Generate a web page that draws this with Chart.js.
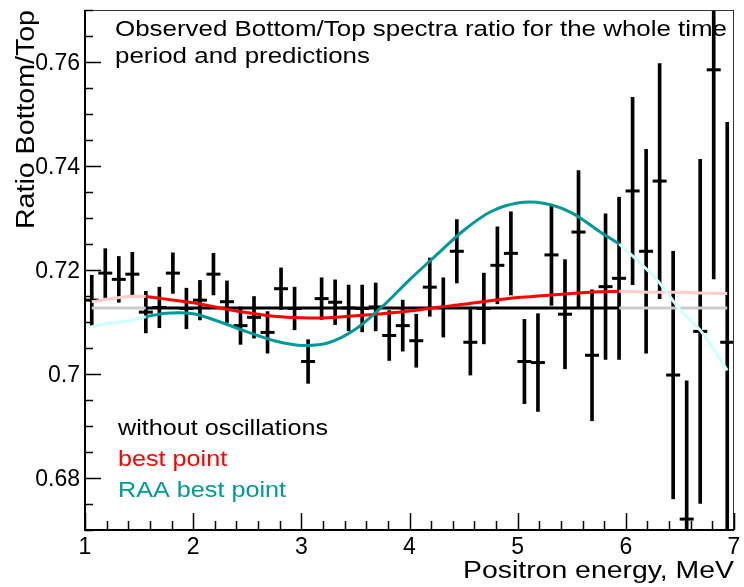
<!DOCTYPE html>
<html>
<head>
<meta charset="utf-8">
<script src="https://cdn.jsdelivr.net/npm/chart.js@4.4.1/dist/chart.umd.min.js"></script>
<style>
html, body { margin: 0; padding: 0; background: #fff; }
</style>
</head>
<body>
<canvas id="chart" width="744" height="587"></canvas>
<script>
// bin centres, MeV
var energy = [1.0625, 1.1875, 1.3125, 1.4375, 1.5625, 1.6875, 1.8125, 1.9375,
	2.0625, 2.1875, 2.3125, 2.4375, 2.5625, 2.6875, 2.8125, 2.9375,
	3.0625, 3.1875, 3.3125, 3.4375, 3.5625, 3.6875, 3.8125, 3.9375,
	4.0625, 4.1875, 4.3125, 4.4375, 4.5625, 4.6875, 4.8125, 4.9375,
	5.0625, 5.1875, 5.3125, 5.4375, 5.5625, 5.6875, 5.8125, 5.9375,
	6.0625, 6.1875, 6.3125, 6.4375, 6.5625, 6.6875, 6.8125, 6.9375]
// observed bottom/top ratio
var ratio = [0.7142, 0.7194, 0.7182, 0.7192, 0.7119, 0.7128, 0.7194, 0.7126,
	0.7142, 0.7192, 0.7139, 0.7093, 0.7109, 0.7080, 0.7164, 0.7126,
	0.7024, 0.7145, 0.7138, 0.7127, 0.7126, 0.7129, 0.7074, 0.7093,
	0.7064, 0.7167, 0.7128, 0.7236, 0.7061, 0.7126, 0.7209, 0.7232,
	0.7024, 0.7022, 0.7229, 0.7115, 0.7273, 0.7036, 0.7168, 0.7184,
	0.7352, 0.7236, 0.7371, 0.6998, 0.6721, 0.7082, 0.7585, 0.7061]
var errHigh = [0.0048, 0.0047, 0.0044, 0.0042, 0.0040, 0.0039, 0.0039, 0.0039,
	0.0038, 0.0040, 0.0040, 0.0036, 0.0040, 0.0040, 0.0040, 0.0041,
	0.0042, 0.0040, 0.0043, 0.0044, 0.0045, 0.0046, 0.0048, 0.0049,
	0.0051, 0.0056, 0.0057, 0.0061, 0.0063, 0.0068, 0.0074, 0.0080,
	0.0081, 0.0094, 0.0097, 0.0105, 0.0118, 0.0126, 0.0140, 0.0156,
	0.0180, 0.0196, 0.0226, 0.0238, 0.0266, 0.0331, 0.0402, 0.0423]
var errLow = [0.0048, 0.0047, 0.0044, 0.0042, 0.0040, 0.0039, 0.0039, 0.0039,
	0.0038, 0.0040, 0.0040, 0.0036, 0.0040, 0.0040, 0.0040, 0.0041,
	0.0042, 0.0040, 0.0043, 0.0044, 0.0045, 0.0046, 0.0048, 0.0049,
	0.0051, 0.0056, 0.0057, 0.0061, 0.0063, 0.0068, 0.0074, 0.0080,
	0.0081, 0.0094, 0.0097, 0.0105, 0.0145, 0.0126, 0.0140, 0.0156,
	0.0180, 0.0196, 0.0226, 0.0238, 0.0266, 0.0331, 0.0402, 0.0423]

// predictions, sampled along curveE
var curveE = [1.0625, 1.25, 1.4, 1.5625, 1.75, 2.0, 2.25, 2.5, 2.75, 3.0, 3.25, 3.5,
	3.75, 4.0, 4.25, 4.5, 4.75, 5.0, 5.25, 5.5, 5.75, 5.9375, 6.1, 6.3, 6.5, 6.7, 6.9375]
var noOsc = [0.7127, 0.7127, 0.7127, 0.7127, 0.7127, 0.7127, 0.7127, 0.7127, 0.7127,
	0.7127, 0.7127, 0.7127, 0.7127, 0.7127, 0.7127, 0.7127, 0.7127, 0.7127, 0.7127,
	0.7127, 0.7127, 0.7127, 0.7127, 0.7127, 0.7127, 0.7127, 0.7127]
var bestPoint = [0.7139, 0.7145, 0.7149, 0.7149, 0.7144, 0.7137, 0.7127, 0.7118, 0.7111,
	0.7108, 0.7108, 0.7112, 0.7116, 0.7121, 0.7128, 0.7134, 0.7141, 0.7147, 0.7151,
	0.7155, 0.7158, 0.7159, 0.7158, 0.7157, 0.7157, 0.7156, 0.7155]
var raaBest = [0.7091, 0.7098, 0.7102, 0.7110, 0.7117, 0.7116, 0.7100, 0.7081, 0.7064,
	0.7055, 0.7060, 0.7086, 0.7130, 0.7181, 0.7229, 0.7276, 0.7312, 0.7329, 0.7328,
	0.7310, 0.7275, 0.7250, 0.7220, 0.7178, 0.7124, 0.7081, 0.7007]
var fitMin = 1.5625, fitMax = 5.9375

var xTicks = [1, 2, 3, 4, 5, 6, 7]
var yTicks = [0.68, 0.70, 0.72, 0.74, 0.76]
var noteLines = ['Observed Bottom/Top spectra ratio for the whole time', 'period and predictions']
var legendLabels = ['without oscillations', 'best point', 'RAA best point']
var xTitle = 'Positron energy, MeV'
var yTitle = 'Ratio Bottom/Top'

var FONT = "'Liberation Sans', Arial, sans-serif"
var TEAL = '#009999'

function pts(vals, keep) {
	return curveE.map(function (e, i) {
		return { x: e, y: keep(e) ? vals[i] : null }
	})
}
var inFit = function (e) { return e >= fitMin && e <= fitMax }
var outFit = function (e) { return e <= fitMin || e >= fitMax }

function curve(vals, color, keep, order) {
	return {
		type: 'line', data: pts(vals, keep), borderColor: color, borderWidth: 3,
		pointRadius: 0, tension: 0.35, spanGaps: false,
		clip: 0, order: order,
	}
}

// text drawn a bit wider than the font, like the ROOT output
function wideText(ctx, s, x, y, sx) {
	ctx.save()
	ctx.translate(x, y)
	ctx.scale(sx, 1)
	ctx.fillText(s, 0, 0)
	ctx.restore()
}

// ROOT-like frame, ticks, labels and texts
var rootStyle = {
	id: 'rootStyle',
	afterDatasetsDraw: function (chart) {
		var ctx = chart.ctx, a = chart.chartArea
		var xs = chart.scales.x, ys = chart.scales.y
		ctx.save()
		ctx.strokeStyle = '#333'
		ctx.lineWidth = 1
		ctx.strokeRect(a.left + 0.5, a.top + 0.5, a.right - a.left - 1, a.bottom - a.top - 1)
		ctx.strokeStyle = '#000'
		ctx.lineWidth = 2
		ctx.beginPath()
		ctx.moveTo(a.left, a.top); ctx.lineTo(a.left, a.bottom); ctx.lineTo(a.right, a.bottom)
		ctx.stroke()
		ctx.lineWidth = 1.5
		ctx.beginPath()
		for (var v = 1; v <= 7.0001; v += 0.2) {
			var px = Math.round(xs.getPixelForValue(v)) + 0.5
			var major = Math.abs(v - Math.round(v)) < 1e-6
			ctx.moveTo(px, a.bottom); ctx.lineTo(px, a.bottom - (major ? 17 : 9))
		}
		for (var w = 0.67; w <= 0.7701; w += 0.005) {
			var py = Math.round(ys.getPixelForValue(w)) + 0.5
			var maj = Math.abs(w * 50 - Math.round(w * 50)) < 1e-6
			ctx.moveTo(a.left, py); ctx.lineTo(a.left + (maj ? 16 : 8), py)
		}
		ctx.stroke()

		ctx.fillStyle = '#000'
		ctx.font = '23px ' + FONT
		ctx.textBaseline = 'alphabetic'
		ctx.textAlign = 'center'
		xs.ticks.forEach(function (t) {
			ctx.fillText(String(t.value), xs.getPixelForValue(t.value), 554)
		})
		ctx.textAlign = 'right'
		ys.ticks.forEach(function (t) {
			ctx.fillText(String(+t.value.toFixed(2)), 80, ys.getPixelForValue(t.value) + 8)
		})

		ctx.textAlign = 'left'
		ctx.font = '23px ' + FONT
		var wx = ctx.measureText(xTitle).width
		wideText(ctx, xTitle, a.right - 271, 578, 271 / wx)
		ctx.font = '25px ' + FONT
		var wy = ctx.measureText(yTitle).width
		ctx.save()
		ctx.translate(34, a.top + 219)
		ctx.rotate(-Math.PI / 2)
		wideText(ctx, yTitle, 0, 0, 219 / wy)
		ctx.restore()
		ctx.restore()

		ctx.save()
		ctx.font = '22px ' + FONT
		ctx.textAlign = 'left'; ctx.textBaseline = 'alphabetic'
		ctx.fillStyle = '#000'
		var w0 = ctx.measureText(noteLines[0]).width
		noteLines.forEach(function (s, i) { wideText(ctx, s, 115, 36 + i * 27, 612 / w0) })
		var cols = ['#000', '#ff0000', TEAL]
		var w1 = ctx.measureText(legendLabels[0]).width
		legendLabels.forEach(function (s, i) {
			ctx.fillStyle = cols[i]
			wideText(ctx, s, 118, 435 + i * 31, 210 / w1)
		})
		ctx.restore()
	},
}

new Chart(document.getElementById('chart'), {
	type: 'bar',
	data: {
		datasets: [
			// vertical error bars
			{
				type: 'bar', grouped: false, barThickness: 3, backgroundColor: '#000', borderWidth: 0,
				data: energy.map(function (e, i) { return { x: e, y: [ratio[i] - errLow[i], ratio[i] + errHigh[i]] } }),
				clip: 0, order: 10,
			},
			// bin markers
			{
				type: 'line', showLine: false, pointStyle: 'line', pointRadius: 7, pointBorderWidth: 3,
				pointBorderColor: '#000', borderColor: '#000',
				data: energy.map(function (e, i) { return { x: e, y: ratio[i] } }),
				clip: 0, order: 9,
			},
			curve(noOsc, '#cccccc', outFit, 6),
			curve(bestPoint, '#ffcccc', outFit, 5),
			curve(raaBest, '#ccffff', outFit, 4),
			curve(noOsc, '#000000', inFit, 3),
			curve(bestPoint, '#ff0000', inFit, 2),
			curve(raaBest, TEAL, inFit, 1),
		],
	},
	options: {
		responsive: false,
		animation: false,
		layout: { padding: { left: 0, right: 3, top: 5, bottom: 0 } },
		plugins: { legend: { display: false }, tooltip: { enabled: false } },
		scales: {
			x: {
				type: 'linear', min: 1, max: 7, offset: false,
				grid: { display: false }, border: { display: false }, ticks: { display: false },
				afterBuildTicks: function (s) { s.ticks = xTicks.map(function (v) { return { value: v } }) },
				afterFit: function (s) { s.height = 57 },
			},
			y: {
				type: 'linear', min: 0.67, max: 0.77,
				grid: { display: false }, border: { display: false }, ticks: { display: false },
				afterBuildTicks: function (s) { s.ticks = yTicks.map(function (v) { return { value: v } }) },
				afterFit: function (s) { s.width = 85 },
			},
		},
	},
	plugins: [rootStyle],
})
</script>
</body>
</html>
